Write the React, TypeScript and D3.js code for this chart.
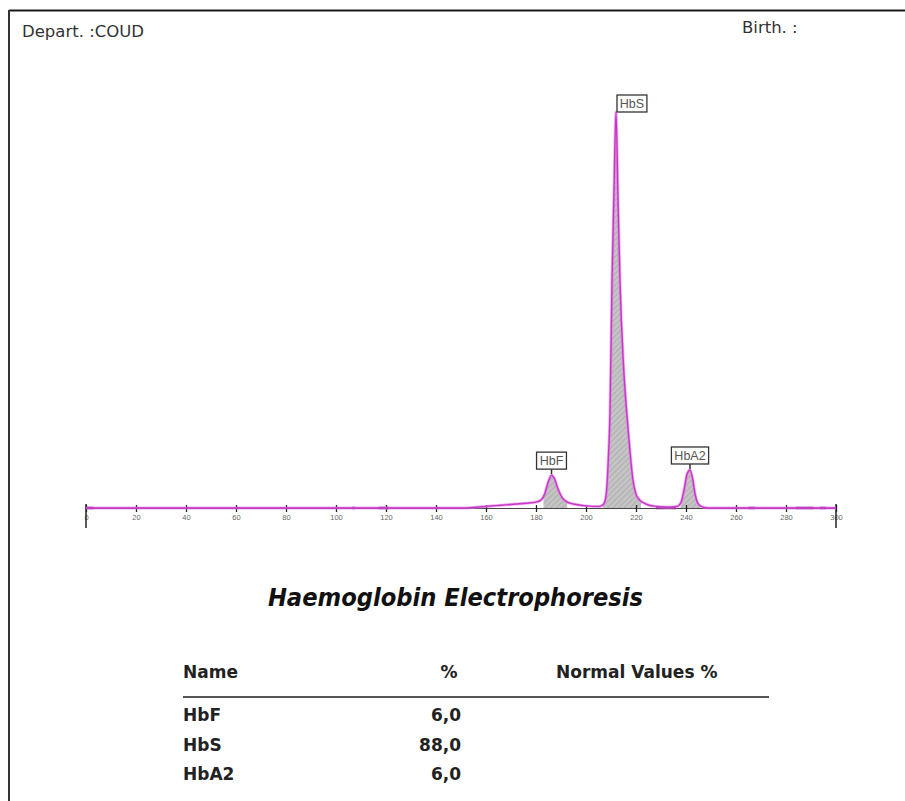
import * as d3 from "d3";
import { useEffect, useRef } from "react";

const width = 905;
const height = 801;

// migration position (axis units) and detector signal (HbS peak = 100)
const tracePos = [
  0, 40, 80, 120, 150, 156, 160, 164, 168, 172, 176, 180, 182, 183.5, 184.8, 186.2, 187.4, 188.8,
  190.5, 192.5, 195, 199, 203, 205.5, 206.8, 207.7, 208.3, 208.9, 209.6, 210.4, 211.2, 212,
  212.8, 213.6, 215, 216.3, 217.5, 218.8, 220, 221.5, 224, 228, 233, 236.5, 238, 239.2, 240.4,
  241.6, 242.6, 243.5, 244.5, 246, 249, 260, 280, 300,
];
const traceSignal = [
  0, 0, 0, 0, 0, 0.2, 0.4, 0.6, 0.8, 1.0, 1.2, 1.5, 2.0, 3.6, 6.4, 8.3, 7.4, 4.8,
  2.6, 1.5, 1.0, 0.6, 0.4, 0.4, 0.8, 2.0, 5.0, 12, 24, 57, 80, 100,
  78, 57, 36, 24, 15, 7, 3.5, 2.0, 1.0, 0.4, 0.2, 0.4, 1.4, 4.5, 8.5,
  9.6, 7.6, 4.0, 1.5, 0.4, 0, 0, 0, 0,
];

const fractions = ["HbF", "HbS", "HbA2"];
const percents = ["6,0", "88,0", "6,0"];
const normalValues = ["", "", ""];
const peakRanges = [
  [183, 192.5],
  [206.8, 222],
  [237.8, 245.5],
];
const tickValues = [0, 20, 40, 60, 80, 100, 120, 140, 160, 180, 200, 220, 240, 260, 280, 300];
// short darker spots along the baseline
const baselineNoise = [
  [0, 3],
  [106.5, 107.5],
  [117, 121],
  [228, 236],
  [265, 267.5],
  [284, 291],
  [293.5, 296],
];

const sans = "'DejaVu Sans', sans-serif";
const sansCond = "'DejaVu Sans Condensed', 'DejaVu Sans', sans-serif";

export default function App() {
  const axisRef = useRef<SVGGElement>(null);

  const x = d3.scaleLinear().domain([0, 300]).range([86, 836]);
  const y = d3.scaleLinear().domain([0, 100]).range([508, 112]);

  const points: [number, number][] = tracePos.map((p, i) => [p, traceSignal[i]]);

  const line = d3
    .line<[number, number]>()
    .x((d) => x(d[0]))
    .y((d) => y(d[1]))
    .curve(d3.curveMonotoneX);
  const area = d3
    .area<[number, number]>()
    .x((d) => x(d[0]))
    .y0(y(0))
    .y1((d) => y(d[1]))
    .curve(d3.curveMonotoneX);

  useEffect(() => {
    const g = d3.select(axisRef.current);
    g.selectAll("*").remove();
    const axis = d3
      .axisBottom(x)
      .tickValues(tickValues)
      .tickSizeOuter(0)
      .tickSizeInner(4)
      .tickPadding(3);
    g.call(axis);
    g.select(".domain").attr("stroke", "#444").attr("stroke-width", 1);
    g.selectAll(".tick line").attr("y1", -3).attr("stroke", "#222").attr("stroke-width", 1.3);
    g.selectAll(".tick text")
      .attr("fill", "#666")
      .attr("font-size", 7.5)
      .attr("font-family", "'Liberation Sans', Arial, sans-serif");
    // long end markers
    g.selectAll(".end")
      .data([0, 300])
      .enter()
      .append("line")
      .attr("class", "end")
      .attr("x1", (d) => x(d))
      .attr("x2", (d) => x(d))
      .attr("y1", -4)
      .attr("y2", 20)
      .attr("stroke", "#222")
      .attr("stroke-width", 1.5);
  }, []);

  // peak tops
  const peaks = peakRanges.map((r) => {
    const inside = points.filter((p) => p[0] >= r[0] && p[0] <= r[1]);
    return inside.reduce((a, b) => (b[1] > a[1] ? b : a));
  });

  return (
    <div style={{ position: "fixed", left: 0, top: 0 }}>
      <svg width={width} height={height} style={{ display: "block", background: "#fff" }}>
        <defs>
          <pattern id="hatch" width="4" height="4" patternUnits="userSpaceOnUse" patternTransform="rotate(45)">
            <rect width="4" height="4" fill="#c4c4c4" />
            <line x1="0" y1="0" x2="0" y2="4" stroke="#9a9a9a" strokeWidth="1" />
          </pattern>
          {peakRanges.map((r, i) => (
            <clipPath id={`peak${i}`} key={i}>
              <rect x={x(r[0])} y={0} width={x(r[1]) - x(r[0])} height={y(0) + 1} />
            </clipPath>
          ))}
        </defs>

        {/* frame */}
        <line x1={9} y1={10.5} x2={width} y2={10.5} stroke="#1a1a1a" strokeWidth={2} />
        <line x1={9} y1={10} x2={9} y2={height} stroke="#333" strokeWidth={2} />

        <text x={22} y={37} fontFamily={sans} fontSize={16.5} fill="#333">
          Depart. :COUD
        </text>
        <text x={742} y={33} fontFamily={sans} fontSize={16.5} fill="#333">
          Birth. :
        </text>

        {/* filled peaks */}
        {peakRanges.map((r, i) => (
          <path key={i} d={area(points) ?? ""} fill="url(#hatch)" clipPath={`url(#peak${i})`} />
        ))}

        <g ref={axisRef} transform={`translate(0,${y(0)})`} />

        {baselineNoise.map((s, i) => (
          <line key={i} x1={x(s[0])} x2={x(s[1])} y1={y(0)} y2={y(0)} stroke="#7a2a7a" strokeWidth={2.5} />
        ))}

        <path d={line(points) ?? ""} fill="none" stroke="#e27ae2" strokeWidth={3} strokeOpacity={0.6} />
        <path d={line(points) ?? ""} fill="none" stroke="#c934c9" strokeWidth={1.4} />

        {/* peak labels */}
        {peaks.map((p, i) => {
          const name = fractions[i];
          const bw = 8 + name.length * 7.3;
          const bh = 17;
          const px = x(p[0]);
          const py = y(p[1]);
          const above = i !== 1;
          const bx = above ? px - bw / 2 : px + 1;
          const by = above ? py - 6 - bh : py - bh;
          return (
            <g key={name}>
              {above && <line x1={px} x2={px} y1={py - 6} y2={py - 1} stroke="#333" strokeWidth={1.5} />}
              <rect x={bx} y={by} width={bw} height={bh} fill="#fff" stroke="#333" strokeWidth={1.3} />
              <text
                x={bx + bw / 2}
                y={by + bh - 4}
                textAnchor="middle"
                fontFamily="'Liberation Sans', Arial, sans-serif"
                fontSize={12.5}
                fill="#555"
              >
                {name}
              </text>
            </g>
          );
        })}

        <text
          x={455.5}
          y={606}
          textAnchor="middle"
          fontFamily={sansCond}
          fontWeight="bold"
          fontStyle="italic"
          fontSize={25.2}
          fill="#111"
        >
          Haemoglobin Electrophoresis
        </text>

        {/* results table */}
        <g fontFamily={sans} fontWeight="bold" fontSize={17} fill="#222">
          <text x={183} y={678}>Name</text>
          <text x={449} y={678} textAnchor="middle">%</text>
          <text x={556} y={678}>Normal Values %</text>
          <line x1={183} x2={769} y1={697} y2={697} stroke="#555" strokeWidth={2} />
          {fractions.map((f, i) => (
            <g key={f}>
              <text x={183} y={721 + i * 29.5}>{f}</text>
              <text x={461} y={721 + i * 29.5} textAnchor="end">{percents[i]}</text>
              <text x={556} y={721 + i * 29.5}>{normalValues[i]}</text>
            </g>
          ))}
        </g>
      </svg>
    </div>
  );
}
